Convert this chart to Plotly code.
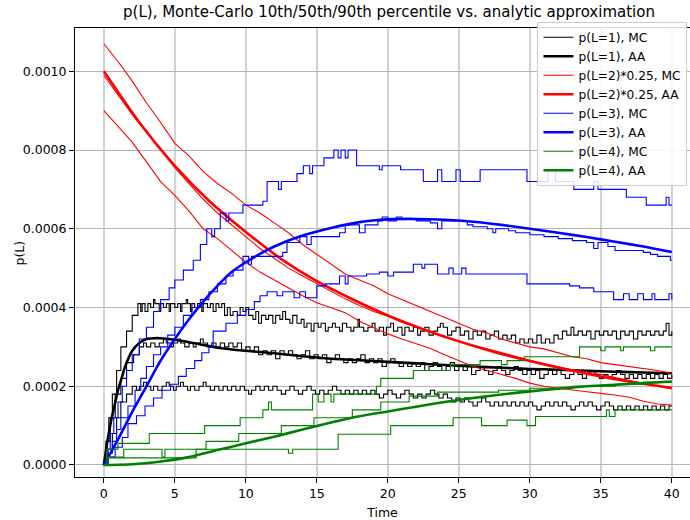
import plotly.graph_objects as go

S = 1e-4  # all values below are given in units of 1e-4

# ---------------- analytic approximations (AA) ----------------
AA1_T = [0, 0.25, 0.5, 0.75, 1, 1.25, 1.5, 2, 2.5, 3, 3.5, 4, 5, 6, 7, 8, 10, 12, 14, 16, 18, 20, 22, 24, 26, 28, 30, 32, 34, 36, 38, 40]
AA1_V = [0, 0.6, 1.1, 1.5, 1.9, 2.2, 2.5, 2.9, 3.1, 3.2, 3.22, 3.22, 3.18, 3.12, 3.05, 2.98, 2.9, 2.84, 2.76, 2.7, 2.66, 2.62, 2.58, 2.54, 2.5, 2.47, 2.44, 2.42, 2.39, 2.37, 2.35, 2.33]

AA2_T = [0, 2.5, 5, 7.5, 10, 12.5, 15, 17.5, 20, 22.5, 25, 27.5, 30, 32.5, 35, 37.5, 40]
AA2_V = [10.0, 8.7, 7.6, 6.68, 5.92, 5.23, 4.67, 4.21, 3.80, 3.45, 3.14, 2.87, 2.64, 2.43, 2.25, 2.09, 1.96]

AA3_T = [0, 1, 2, 3, 4, 5, 6, 7, 8, 9, 10, 12, 14, 16, 18, 20, 22, 24, 26, 28, 30, 32, 34, 36, 38, 40]
AA3_V = [0, 0.65, 1.35, 2.0, 2.65, 3.2, 3.7, 4.15, 4.55, 4.9, 5.15, 5.55, 5.83, 6.02, 6.17, 6.24, 6.25, 6.23, 6.18, 6.1, 6.0, 5.9, 5.79, 5.67, 5.55, 5.41]

AA4_T = [0, 2, 4, 6, 8, 10, 12, 14, 16, 18, 20, 22, 24, 26, 28, 30, 32, 34, 36, 38, 40]
AA4_V = [0, 0.02, 0.09, 0.2, 0.38, 0.55, 0.72, 0.9, 1.08, 1.24, 1.36, 1.48, 1.6, 1.7, 1.79, 1.87, 1.94, 2.0, 2.04, 2.08, 2.12]

# ---------------- Monte-Carlo percentiles: (time, value) change points ----------------
# L=1
B90 = [(0, 0), (0.15, 0.6), (0.35, 1.2), (0.6, 1.8), (0.9, 2.4), (1.2, 3.0), (1.6, 3.4), (2.0, 3.8), (2.4, 4.1), (2.6, 3.9), (2.7, 4.1), (2.9, 3.9), (3.1, 4.1), (3.3, 4.0), (3.5, 4.2), (3.6, 4.1), (3.9, 3.9), (4.0, 4.1), (4.2, 4.0), (4.4, 4.1), (4.6, 3.9), (4.7, 4.1), (5.0, 4.0), (5.2, 4.1), (5.4, 3.9), (5.5, 4.1), (5.8, 4.2), (5.9, 4.1), (6.1, 3.9), (6.2, 4.1), (6.4, 4.0), (6.6, 4.1), (6.9, 3.9), (7.0, 4.1), (7.3, 4.0), (7.5, 4.1), (7.7, 3.9), (7.9, 4.1), (8.1, 4.0), (8.3, 4.1), (8.5, 3.8), (8.7, 4.0), (8.9, 3.8), (9.1, 3.9), (9.4, 3.8), (9.6, 4.0), (9.8, 3.9), (10.0, 4.0), (10.2, 3.8), (10.5, 3.7), (10.7, 3.9), (10.9, 3.6), (11.1, 3.8), (11.4, 3.7), (11.6, 3.8), (11.9, 3.6), (12.1, 3.8), (12.4, 3.7), (12.6, 3.9), (12.8, 3.7), (13.1, 3.6), (13.3, 3.8), (13.6, 3.6), (13.9, 3.7), (14.1, 3.5), (14.3, 3.6), (14.6, 3.4), (14.8, 3.6), (15.1, 3.5), (15.3, 3.6), (15.6, 3.4), (15.8, 3.5), (16.1, 3.6), (16.3, 3.5), (16.6, 3.4), (16.8, 3.6), (17.1, 3.5), (17.4, 3.4), (17.6, 3.5), (17.9, 3.7), (18.0, 3.5), (18.3, 3.4), (18.6, 3.5), (18.9, 3.6), (19.1, 3.4), (19.4, 3.5), (19.7, 3.3), (19.9, 3.5), (20.2, 3.6), (20.4, 3.4), (20.7, 3.5), (21.0, 3.3), (21.2, 3.5), (21.5, 3.4), (21.8, 3.5), (22.1, 3.3), (22.3, 3.4), (22.6, 3.5), (22.9, 3.3), (23.2, 3.4), (23.5, 3.5), (23.7, 3.6), (23.9, 3.5), (24.2, 3.3), (24.5, 3.4), (24.8, 3.5), (25.1, 3.3), (25.4, 3.4), (25.7, 3.2), (26.0, 3.4), (26.3, 3.3), (26.6, 3.4), (26.9, 3.2), (27.2, 3.3), (27.5, 3.4), (27.8, 3.2), (28.1, 3.3), (28.4, 3.2), (28.7, 3.3), (29.0, 3.1), (29.3, 3.2), (29.6, 3.1), (29.9, 3.2), (30.2, 3.1), (30.5, 3.3), (30.8, 3.1), (31.1, 3.2), (31.4, 3.1), (31.7, 3.3), (32.0, 3.2), (32.3, 3.4), (32.6, 3.3), (32.9, 3.5), (33.1, 3.3), (33.4, 3.4), (33.7, 3.3), (34.0, 3.4), (34.3, 3.2), (34.6, 3.4), (34.9, 3.3), (35.2, 3.4), (35.5, 3.3), (35.8, 3.4), (36.1, 3.2), (36.4, 3.4), (36.7, 3.3), (37.0, 3.4), (37.3, 3.2), (37.6, 3.4), (37.9, 3.3), (38.2, 3.4), (38.5, 3.3), (38.8, 3.4), (39.1, 3.3), (39.4, 3.4), (39.6, 3.6), (39.8, 3.3), (40.0, 3.4)]

B50 = [(0, 0), (0.2, 0.6), (0.45, 1.2), (0.8, 1.8), (1.2, 2.2), (1.6, 2.6), (2.1, 2.8), (2.5, 3.0), (2.8, 3.1), (3.0, 3.0), (3.3, 3.1), (3.6, 3.0), (3.9, 3.1), (4.2, 3.2), (4.4, 3.1), (4.7, 3.0), (4.9, 3.1), (5.2, 3.2), (5.4, 3.1), (5.7, 3.0), (6.0, 3.1), (6.3, 3.0), (6.5, 3.1), (6.8, 3.2), (7.0, 3.1), (7.3, 3.0), (7.6, 3.1), (7.9, 3.0), (8.2, 3.1), (8.5, 3.0), (8.8, 3.1), (9.1, 3.0), (9.4, 3.1), (9.7, 2.9), (10.0, 3.0), (10.3, 2.9), (10.6, 3.0), (10.9, 2.8), (11.2, 2.9), (11.5, 2.8), (11.8, 2.9), (12.1, 2.7), (12.4, 2.9), (12.7, 2.8), (13.0, 2.9), (13.3, 2.8), (13.6, 2.7), (13.9, 2.8), (14.2, 2.9), (14.5, 2.7), (14.8, 2.8), (15.1, 2.7), (15.4, 2.8), (15.7, 2.6), (16.0, 2.7), (16.3, 2.8), (16.6, 2.7), (16.9, 2.6), (17.2, 2.7), (17.5, 2.6), (17.8, 2.7), (18.1, 2.8), (18.4, 2.6), (18.7, 2.7), (19.0, 2.6), (19.3, 2.7), (19.6, 2.5), (19.9, 2.6), (20.2, 2.7), (20.5, 2.6), (20.8, 2.5), (21.1, 2.6), (21.4, 2.5), (21.7, 2.6), (22.0, 2.5), (22.3, 2.6), (22.6, 2.4), (22.9, 2.5), (23.2, 2.6), (23.5, 2.5), (23.8, 2.4), (24.1, 2.5), (24.4, 2.6), (24.7, 2.4), (25.0, 2.5), (25.3, 2.4), (25.6, 2.5), (25.9, 2.3), (26.2, 2.4), (26.5, 2.5), (26.8, 2.4), (27.1, 2.3), (27.4, 2.4), (27.7, 2.5), (28.0, 2.4), (28.3, 2.3), (28.6, 2.4), (28.9, 2.5), (29.2, 2.4), (29.5, 2.3), (29.8, 2.4), (30.1, 2.3), (30.4, 2.4), (30.7, 2.2), (31.0, 2.3), (31.3, 2.4), (31.6, 2.3), (31.9, 2.4), (32.2, 2.3), (32.5, 2.2), (32.8, 2.3), (33.1, 2.4), (33.4, 2.3), (33.7, 2.2), (34.0, 2.3), (34.3, 2.4), (34.6, 2.3), (34.9, 2.2), (35.2, 2.3), (35.5, 2.2), (35.8, 2.3), (36.1, 2.4), (36.4, 2.3), (36.7, 2.2), (37.0, 2.3), (37.3, 2.2), (37.6, 2.3), (37.9, 2.2), (38.2, 2.3), (38.5, 2.2), (38.8, 2.3), (39.1, 2.2), (39.4, 2.3), (39.7, 2.2), (40.0, 2.3)]

B10 = [(0, 0), (0.3, 0.4), (0.6, 0.8), (0.9, 1.2), (1.2, 1.6), (1.6, 1.8), (2.0, 2.0), (2.3, 1.9), (2.5, 2.0), (2.8, 2.1), (3.0, 2.0), (3.3, 1.9), (3.5, 2.0), (3.8, 1.9), (4.1, 2.0), (4.4, 2.1), (4.6, 2.0), (4.9, 1.9), (5.1, 2.0), (5.4, 2.1), (5.6, 2.0), (5.9, 1.9), (6.1, 2.0), (6.4, 1.9), (6.7, 2.0), (7.0, 2.1), (7.2, 2.0), (7.5, 1.9), (7.8, 2.0), (8.1, 1.9), (8.4, 2.0), (8.7, 1.9), (9.0, 2.0), (9.3, 1.9), (9.6, 2.0), (9.9, 1.9), (10.2, 1.8), (10.4, 1.9), (10.7, 2.0), (11.0, 1.9), (11.3, 2.0), (11.6, 1.9), (11.9, 2.0), (12.2, 1.9), (12.5, 1.8), (12.8, 1.9), (13.1, 2.0), (13.4, 1.9), (13.7, 1.8), (14.0, 1.9), (14.3, 2.0), (14.6, 1.9), (14.9, 1.8), (15.2, 1.9), (15.5, 1.8), (15.8, 1.9), (16.1, 2.0), (16.4, 1.9), (16.7, 1.8), (17.0, 1.9), (17.3, 1.8), (17.6, 1.9), (17.9, 1.8), (18.2, 1.9), (18.5, 1.8), (18.8, 1.9), (19.1, 1.8), (19.4, 1.7), (19.7, 1.8), (20.0, 1.9), (20.3, 1.8), (20.6, 1.7), (20.9, 1.8), (21.2, 1.9), (21.5, 1.8), (21.8, 1.7), (22.1, 1.8), (22.4, 1.7), (22.7, 1.8), (23.0, 1.9), (23.3, 1.8), (23.6, 1.7), (23.9, 1.8), (24.2, 1.7), (24.5, 1.6), (24.8, 1.7), (25.1, 1.6), (25.4, 1.7), (25.7, 1.6), (26.0, 1.5), (26.3, 1.6), (26.6, 1.7), (26.9, 1.6), (27.2, 1.5), (27.5, 1.6), (27.8, 1.5), (28.1, 1.6), (28.4, 1.5), (28.7, 1.6), (29.0, 1.5), (29.3, 1.6), (29.6, 1.5), (29.9, 1.6), (30.2, 1.5), (30.5, 1.4), (30.8, 1.5), (31.1, 1.6), (31.4, 1.5), (31.7, 1.6), (32.0, 1.5), (32.3, 1.6), (32.6, 1.5), (32.9, 1.4), (33.2, 1.5), (33.5, 1.6), (33.8, 1.5), (34.1, 1.6), (34.4, 1.5), (34.7, 1.4), (35.0, 1.5), (35.3, 1.6), (35.6, 1.5), (35.9, 1.4), (36.2, 1.5), (36.5, 1.4), (36.8, 1.5), (37.1, 1.4), (37.4, 1.5), (37.7, 1.4), (38.0, 1.5), (38.3, 1.4), (38.6, 1.5), (38.9, 1.4), (39.2, 1.5), (39.5, 1.4), (39.8, 1.5), (40.0, 1.5)]

# L=2 (scaled by 0.25), read once per time unit
R_T = list(range(0, 41))
R90_V = [10.7, 10.25, 9.75, 9.2, 8.7, 8.17, 7.85, 7.45, 7.15, 6.9, 6.6, 6.4, 6.15, 5.9, 5.6, 5.35, 5.1, 4.85, 4.7, 4.55, 4.35, 4.2, 4.05, 3.9, 3.75, 3.6, 3.45, 3.35, 3.2, 3.1, 3.0, 2.95, 2.85, 2.75, 2.7, 2.6, 2.55, 2.5, 2.45, 2.4, 2.33]
R50_V = [9.9, 9.4, 8.9, 8.45, 8.0, 7.55, 7.15, 6.75, 6.4, 6.1, 5.8, 5.5, 5.25, 5.0, 4.8, 4.6, 4.4, 4.22, 4.05, 3.9, 3.78, 3.62, 3.5, 3.38, 3.26, 3.15, 3.05, 2.95, 2.85, 2.76, 2.66, 2.58, 2.5, 2.42, 2.36, 2.3, 2.22, 2.15, 2.08, 2.0, 1.93]
R10_V = [9.0, 8.6, 8.2, 7.7, 7.2, 6.85, 6.45, 6.0, 5.75, 5.45, 5.15, 4.9, 4.7, 4.48, 4.3, 4.12, 4.0, 3.87, 3.65, 3.48, 3.33, 3.2, 3.08, 2.96, 2.8, 2.65, 2.5, 2.4, 2.3, 2.2, 2.08, 2.0, 1.95, 1.9, 1.86, 1.82, 1.78, 1.72, 1.62, 1.55, 1.52]

# L=3
U90 = [(0, 0), (0.2, 0.4), (0.45, 0.8), (0.7, 1.2), (1.0, 1.6), (1.3, 2.0), (1.6, 2.4), (2.0, 2.8), (2.5, 3.2), (3.0, 3.5), (3.5, 3.9), (4.0, 4.2), (4.6, 4.5), (5.0, 4.7), (5.6, 4.95), (6.3, 5.2), (6.8, 5.6), (7.25, 6.0), (7.6, 5.8), (7.8, 6.0), (8.2, 6.4), (8.6, 6.2), (8.8, 6.4), (9.8, 6.6), (11.2, 6.7), (11.5, 7.2), (12.3, 7.0), (12.5, 7.2), (13.6, 7.4), (14.05, 7.6), (14.5, 7.4), (14.7, 7.6), (15.5, 7.8), (16.2, 8.0), (16.5, 7.8), (16.7, 8.0), (17.0, 7.8), (17.2, 8.0), (17.8, 7.6), (19.4, 7.5), (19.6, 7.6), (20.0, 7.6), (20.9, 7.5), (22.5, 7.2), (23.5, 7.5), (23.8, 7.2), (24.8, 7.5), (25.1, 7.2), (26.5, 7.5), (29.8, 7.2), (31.0, 7.2), (31.3, 7.5), (31.8, 7.2), (33.1, 7.0), (34.5, 7.2), (34.8, 7.0), (36.8, 6.8), (38.2, 6.6), (39.6, 6.8), (39.8, 6.6), (40.0, 6.6)]

U50 = [(0, 0), (0.3, 0.3), (0.6, 0.6), (0.9, 0.9), (1.2, 1.2), (1.7, 1.5), (2.2, 1.9), (2.6, 2.2), (3.0, 2.5), (3.5, 2.8), (4.0, 3.0), (4.5, 3.3), (5.0, 3.5), (5.6, 3.8), (6.2, 4.0), (6.8, 4.2), (7.4, 4.4), (8.0, 4.6), (8.6, 4.8), (9.1, 4.95), (9.8, 5.3), (10.2, 5.1), (10.4, 5.3), (12.6, 5.4), (12.9, 5.65), (13.8, 5.8), (14.3, 5.6), (14.6, 5.8), (16.6, 5.9), (17.0, 6.1), (18.0, 5.9), (18.4, 6.1), (19.3, 6.2), (19.6, 6.3), (20.0, 6.2), (20.6, 6.3), (21.0, 6.25), (22.0, 6.2), (23.0, 6.15), (23.5, 6.0), (23.8, 6.2), (25.6, 6.1), (26.0, 6.05), (27.0, 6.0), (27.4, 5.9), (27.6, 6.0), (28.5, 5.95), (29.0, 5.9), (30.0, 5.85), (31.0, 5.8), (32.0, 5.75), (33.0, 5.7), (34.0, 5.65), (34.5, 5.5), (34.8, 5.65), (35.5, 5.55), (36.0, 5.45), (38.0, 5.4), (38.5, 5.35), (39.0, 5.3), (39.9, 5.2), (40.0, 5.2)]

U10 = [(0, 0), (0.3, 0.2), (0.8, 0.45), (1.3, 0.7), (1.7, 1.05), (2.3, 1.25), (2.9, 1.5), (3.5, 1.7), (4.1, 1.9), (4.7, 2.05), (5.25, 2.25), (5.8, 2.45), (6.4, 2.65), (6.9, 2.85), (7.4, 3.0), (7.7, 3.4), (8.6, 3.6), (9.4, 3.8), (10.0, 3.95), (10.6, 4.15), (11.0, 4.3), (11.5, 4.4), (12.2, 4.3), (12.6, 4.4), (13.4, 4.25), (13.8, 4.4), (14.2, 4.25), (15.0, 4.55), (15.6, 4.6), (16.6, 4.8), (17.0, 4.6), (17.2, 4.8), (18.5, 4.85), (19.4, 4.9), (20.0, 4.8), (20.4, 4.9), (21.8, 5.1), (22.4, 5.0), (22.6, 5.1), (23.5, 4.85), (24.3, 5.0), (24.6, 4.85), (25.2, 5.0), (25.5, 4.85), (29.8, 4.6), (32.8, 4.55), (33.5, 4.5), (34.5, 4.4), (35.9, 4.2), (36.6, 4.35), (37.0, 4.2), (37.6, 4.35), (38.0, 4.2), (38.6, 4.35), (38.8, 4.2), (39.8, 4.35), (40.0, 4.2)]

# L=4
G90 = [(0, 0), (0.2, 0.4), (1.0, 0.55), (3.2, 0.8), (7.1, 1.0), (9.6, 1.2), (11.2, 1.4), (11.6, 1.6), (11.8, 1.4), (14.7, 1.8), (15.1, 1.6), (15.5, 1.8), (16.0, 1.6), (16.2, 1.8), (19.2, 2.0), (19.5, 2.2), (21.8, 2.4), (24.4, 2.55), (26.5, 2.65), (28.0, 2.55), (28.4, 2.65), (29.6, 2.75), (33.5, 3.0), (35.0, 2.9), (35.3, 3.0), (36.4, 2.9), (36.6, 3.0), (38.5, 2.9), (38.8, 3.0), (40.0, 3.0)]

G50 = [(0, 0), (0.3, 0.2), (1.4, 0.4), (4.1, 0.2), (4.3, 0.4), (7.2, 0.6), (9.5, 0.8), (12.5, 1.0), (14.8, 1.2), (17.5, 1.4), (19.5, 1.6), (21.5, 1.75), (23.5, 1.85), (27.8, 1.9), (30.0, 1.95), (33.0, 2.0), (36.0, 2.05), (38.0, 2.1), (40.0, 2.1)]

G10 = [(0, 0), (0.2, 0.18), (6.5, 0.4), (13.0, 0.3), (13.3, 0.4), (16.5, 0.78), (20.2, 1.0), (24.6, 1.2), (26.6, 1.0), (28.4, 1.14), (29.8, 1.0), (30.4, 1.23), (35.4, 1.4), (35.6, 1.23), (36.0, 1.4), (40.0, 1.4)]


def unzip(points):
    return [p[0] for p in points], [p[1] for p in points]


GROUPS = [
    ("p(L=1), MC", "p(L=1), AA", "black",
     [unzip(B90), unzip(B50), unzip(B10)], (AA1_T, AA1_V), "hv"),
    ("p(L=2)*0.25, MC", "p(L=2)*0.25, AA", "#ff0000",
     [(R_T, R90_V), (R_T, R50_V), (R_T, R10_V)], (AA2_T, AA2_V), "linear"),
    ("p(L=3), MC", "p(L=3), AA", "#0000ff",
     [unzip(U90), unzip(U50), unzip(U10)], (AA3_T, AA3_V), "hv"),
    ("p(L=4), MC", "p(L=4), AA", "#008000",
     [unzip(G90), unzip(G50), unzip(G10)], (AA4_T, AA4_V), "hv"),
]

fig = go.Figure()
for mc_name, aa_name, color, mcs, aa, shape in GROUPS:
    for i, (t, v) in enumerate(mcs):
        fig.add_trace(go.Scatter(
            x=t, y=[x * S for x in v], mode="lines", name=mc_name,
            showlegend=(i == 0),
            line=dict(color=color, width=1.1, shape=shape)))
    fig.add_trace(go.Scatter(
        x=aa[0], y=[x * S for x in aa[1]], mode="lines", name=aa_name,
        line=dict(color=color, width=2.6, shape="spline", smoothing=0.6)))

FONT = "DejaVu Sans"
fig.update_layout(
    width=690, height=520,
    margin=dict(l=75, r=0, t=28, b=43),
    paper_bgcolor="white", plot_bgcolor="white",
    font=dict(family=FONT, size=12.5, color="black"),
    title=dict(text="p(L), Monte-Carlo 10th/50th/90th percentile vs. analytic approximation",
               x=389 / 690, xref="container", xanchor="center",
               y=1 - 12 / 520, yref="container", yanchor="middle",
               font=dict(family=FONT, size=15, color="black")),
    legend=dict(x=0.752, y=1.014, xanchor="left", yanchor="top",
                bgcolor="rgba(255,255,255,0.85)", bordercolor="#cccccc", borderwidth=1,
                font=dict(family=FONT, size=12.2), tracegroupgap=0,
                itemwidth=30),
    showlegend=True,
    annotations=[dict(text="p(L)", textangle=-90, xref="paper", yref="paper",
                      x=(19 - 75) / 615, y=0.5, xanchor="center", yanchor="middle",
                      showarrow=False, font=dict(family=FONT, size=12.5, color="black"))],
)
fig.update_xaxes(
    range=[-2.03, 41.28], tickvals=[0, 5, 10, 15, 20, 25, 30, 35, 40],
    showgrid=True, gridcolor="#d2d2d2", gridwidth=1.6, zeroline=False,
    showline=True, linecolor="black", linewidth=1, mirror=True,
    ticks="outside", ticklen=5, tickcolor="black",
    title=dict(text="Time", font=dict(family=FONT, size=12.5), standoff=8),
)
fig.update_yaxes(
    range=[-0.0000305, 0.00111], tickvals=[0, 0.0002, 0.0004, 0.0006, 0.0008, 0.0010],
    ticktext=["0.0000", "0.0002", "0.0004", "0.0006", "0.0008", "0.0010"],
    showgrid=True, gridcolor="#b4b4b4", gridwidth=1, zeroline=False,
    showline=True, linecolor="black", linewidth=1, mirror=False,
    ticks="outside", ticklen=5, tickcolor="black",
)
fig.write_html("out.html")
